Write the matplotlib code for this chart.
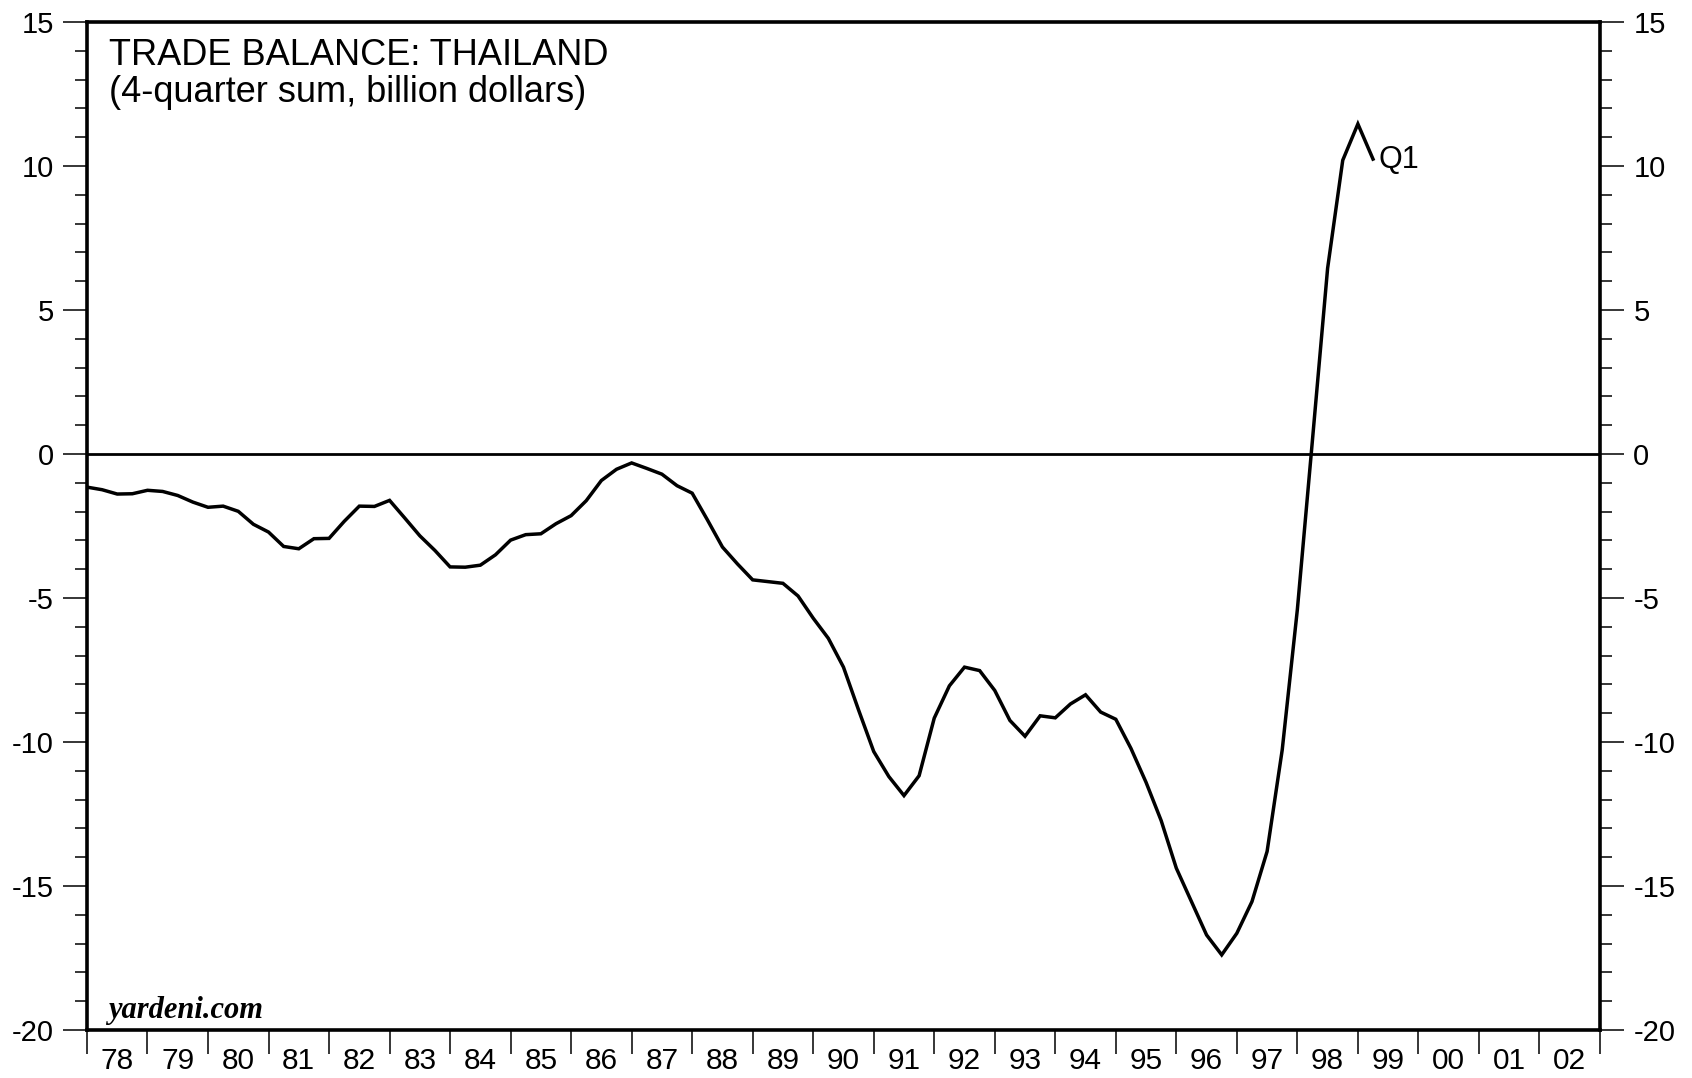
import numpy as np
import matplotlib
matplotlib.use("Agg")
import matplotlib.pyplot as plt
from matplotlib.ticker import FixedLocator, NullFormatter

# quarterly, 4-quarter sum of trade balance, billion dollars
start_year = 1978.0
balance = [
    -1.15, -1.24, -1.39, -1.38, -1.26, -1.30, -1.44, -1.67,
    -1.85, -1.81, -1.99, -2.44, -2.71, -3.21, -3.29, -2.94,
    -2.93, -2.34, -1.81, -1.82, -1.61, -2.22, -2.84, -3.35,
    -3.92, -3.93, -3.86, -3.50, -2.99, -2.80, -2.77, -2.42,
    -2.14, -1.62, -0.92, -0.53, -0.31, -0.50, -0.70, -1.10,
    -1.36, -2.28, -3.23, -3.82, -4.37, -4.43, -4.49, -4.93,
    -5.70, -6.40, -7.40, -8.89, -10.33, -11.20, -11.86, -11.17,
    -9.17, -8.05, -7.40, -7.52, -8.21, -9.25, -9.80, -9.09,
    -9.16, -8.68, -8.36, -8.96, -9.21, -10.22, -11.40, -12.73,
    -14.38, -15.54, -16.70, -17.39, -16.64, -15.54, -13.80, -10.27,
    -5.40, 0.50, 6.45, 10.20, 11.46, 10.24,
]
years = list(range(1978, 2003))
year_labels = ["%02d" % (y % 100) for y in years]
last_label = "Q1"


def main():
    plt.rcParams["font.family"] = ["Liberation Sans", "DejaVu Sans"]
    plt.rcParams["axes.unicode_minus"] = False
    x = start_year + 0.25 * np.arange(len(balance))

    fig = plt.figure(figsize=(16.92, 10.78), dpi=100)
    ax = fig.add_axes([0.0514, 0.0445, 0.8942, 0.9351])

    ax.axhline(0, color="black", lw=2.0)
    ax.plot(x, balance, color="black", lw=2.5, solid_joinstyle="miter")
    ax.annotate(last_label, xy=(x[-1], balance[-1]), xytext=(4, -1),
                textcoords="offset points", fontsize=22, va="center", ha="left")

    ax.set_xlim(1978, 2003)
    ax.set_ylim(-20, 15)

    ax.yaxis.set_major_locator(FixedLocator(np.arange(-20, 16, 5)))
    ax.yaxis.set_minor_locator(FixedLocator(np.arange(-20, 16, 1)))
    ax.tick_params(axis="y", which="both", direction="out", left=True, right=True,
                   labelleft=True, labelright=True, labelsize=21, width=1.1, pad=7)
    ax.tick_params(axis="y", which="major", length=17)
    ax.tick_params(axis="y", which="minor", length=8.3)

    ax.xaxis.set_major_locator(FixedLocator(np.arange(1978, 2004)))
    ax.xaxis.set_major_formatter(NullFormatter())
    ax.xaxis.set_minor_locator(FixedLocator(np.array(years) + 0.5))
    ax.set_xticklabels(year_labels, minor=True)
    ax.tick_params(axis="x", which="major", direction="out", length=17, width=1.1)
    ax.tick_params(axis="x", which="minor", length=0, labelsize=21.5, pad=12)

    for s in ax.spines.values():
        s.set_linewidth(2.6)

    ax.text(0.0145, 0.957, "TRADE BALANCE: THAILAND", transform=ax.transAxes,
            fontsize=26, va="baseline", ha="left")
    ax.text(0.0145, 0.921, "(4-quarter sum, billion dollars)", transform=ax.transAxes,
            fontsize=26, va="baseline", ha="left")
    ax.text(0.0139, 0.012, "yardeni.com", transform=ax.transAxes, fontsize=22,
            family="Liberation Serif", weight="bold", style="italic",
            va="baseline", ha="left")

    fig.savefig("out.png", dpi=100)
    plt.close()


if __name__ == "__main__":
    main()
